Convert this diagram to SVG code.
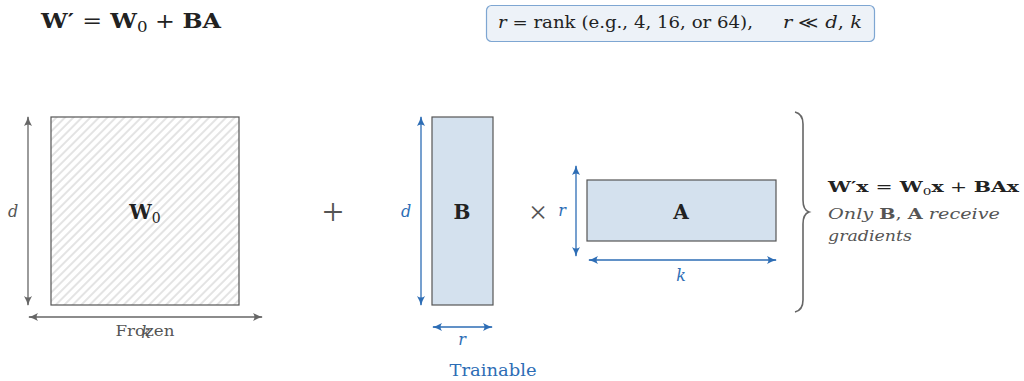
<svg xmlns="http://www.w3.org/2000/svg" width="1024" height="381" viewBox="0 0 1024 381">
<style>
text{font-family:"DejaVu Serif","Liberation Serif",serif;}
.bold{font-weight:bold;}
.it{font-style:italic;}
.dark{fill:#222;}
.gray{fill:#555;}
.blue{fill:#2d6db5;}
.garr{stroke:#666;stroke-width:1.3;fill:none;marker-start:url(#ga);marker-end:url(#ga);}
.barr{stroke:#2d6db5;stroke-width:1.3;fill:none;marker-start:url(#ba);marker-end:url(#ba);}
.mat{stroke:#555;stroke-width:1.2;}
</style>
<defs>
<marker id="ga" viewBox="0 0 10 10" refX="9" refY="5" markerWidth="10" markerHeight="10" orient="auto-start-reverse" markerUnits="userSpaceOnUse">
<path d="M0,1 Q5,4 10,5 Q5,6 0,9 Q3,5 0,1Z" fill="#666"/>
</marker>
<marker id="ba" viewBox="0 0 10 10" refX="9" refY="5" markerWidth="10" markerHeight="10" orient="auto-start-reverse" markerUnits="userSpaceOnUse">
<path d="M0,1 Q5,4 10,5 Q5,6 0,9 Q3,5 0,1Z" fill="#2d6db5"/>
</marker>
<pattern id="hatch" patternUnits="userSpaceOnUse" width="6" height="6" patternTransform="rotate(-45)">
<line x1="0" y1="3" x2="6" y2="3" stroke="#c8c8c8" stroke-width="1"/>
</pattern>
</defs>

<g id="formula">
<text x="41" y="28" font-size="20" class="bold dark" textLength="180" lengthAdjust="spacingAndGlyphs">W′ <tspan font-weight="normal">=</tspan> W<tspan font-weight="normal" font-size="14" dy="4">0</tspan><tspan dy="-4" font-weight="normal"> + </tspan>BA</text>
</g>

<g id="rank-note">
<rect x="486.5" y="5.5" width="388" height="36" rx="5" fill="#edf2f8" stroke="#7ea6d2" stroke-width="1.2"/>
<text x="498" y="28" font-size="16" class="dark" textLength="255" lengthAdjust="spacingAndGlyphs"><tspan class="it">r</tspan> = rank (e.g., 4, 16, or 64),</text>
<text x="783" y="28" font-size="16" class="dark" textLength="79" lengthAdjust="spacingAndGlyphs"><tspan class="it">r</tspan> ≪ <tspan class="it">d</tspan>, <tspan class="it">k</tspan></text>
</g>

<g id="W0">
<rect x="51" y="117" width="188" height="188" fill="url(#hatch)" class="mat"/>
<text x="145" y="219" font-size="20" text-anchor="middle" class="bold dark">W<tspan font-weight="normal" font-size="14" dy="4">0</tspan></text>
<text x="145" y="336" font-size="15" text-anchor="middle" class="gray" textLength="59" lengthAdjust="spacingAndGlyphs">Frozen</text>
</g>

<g id="plus">
<text x="333" y="225" font-size="38" text-anchor="middle" class="gray" style="font-family:'Liberation Serif',serif">+</text>
</g>

<g id="B">
<rect x="432" y="117" width="61" height="188" fill="#d4e1ee" class="mat"/>
<text x="462" y="219" font-size="20" text-anchor="middle" class="bold dark">B</text>
<text x="493" y="376" font-size="16" text-anchor="middle" class="blue" textLength="87" lengthAdjust="spacingAndGlyphs">Trainable</text>
</g>

<g id="times">
<text x="538" y="223" font-size="32" text-anchor="middle" class="gray" style="font-family:'Liberation Serif',serif">×</text>
</g>

<g id="A">
<rect x="587" y="180" width="189" height="61" fill="#d4e1ee" class="mat"/>
<text x="681" y="219" font-size="20" text-anchor="middle" class="bold dark">A</text>
</g>

<g id="result">
<path d="M795,112 Q803,114 803,124 L803,200 Q803,210 809,212 Q803,214 803,224 L803,300 Q803,310 795,312" fill="none" stroke="#666" stroke-width="1.6"/>
<text x="828" y="192" font-size="15" class="bold dark" textLength="191" lengthAdjust="spacingAndGlyphs">W′x <tspan font-weight="normal">=</tspan> W<tspan font-weight="normal" font-size="10" dy="3">0</tspan><tspan dy="-3">x</tspan><tspan font-weight="normal"> + </tspan>BAx</text>
<text x="828" y="219" font-size="15" class="gray" textLength="172" lengthAdjust="spacingAndGlyphs"><tspan class="it">Only</tspan> <tspan class="bold">B</tspan>, <tspan class="bold">A</tspan> <tspan class="it">receive</tspan></text>
<text x="828" y="241" font-size="15" class="gray it" textLength="84" lengthAdjust="spacingAndGlyphs">gradients</text>
</g>

<g id="connectors">
<line x1="28" y1="117" x2="28" y2="305" class="garr"/>
<line x1="29" y1="317" x2="262" y2="317" class="garr"/>
<line x1="421" y1="117" x2="421" y2="305" class="barr"/>
<line x1="433" y1="327" x2="492" y2="327" class="barr"/>
<line x1="576" y1="166" x2="576" y2="256" class="barr"/>
<line x1="589" y1="260" x2="776" y2="260" class="barr"/>
</g>

<g id="dim-labels">
<text x="13" y="217" font-size="16" text-anchor="middle" class="gray it">d</text>
<text x="146" y="338" font-size="16" text-anchor="middle" class="gray it">k</text>
<text x="406" y="217" font-size="16" text-anchor="middle" class="blue it">d</text>
<text x="462" y="345" font-size="16" text-anchor="middle" class="blue it">r</text>
<text x="562" y="216" font-size="16" text-anchor="middle" class="blue it">r</text>
<text x="681" y="281" font-size="16" text-anchor="middle" class="blue it">k</text>
</g>
</svg>
